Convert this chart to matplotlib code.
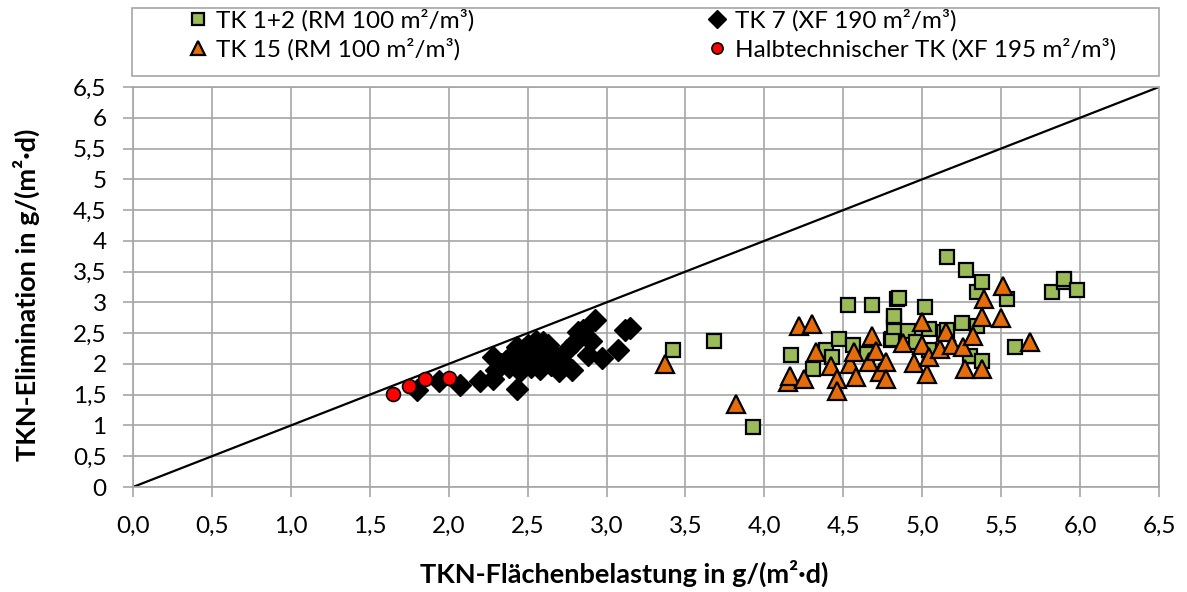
import numpy as np
import matplotlib
matplotlib.use("Agg")
import matplotlib.pyplot as plt
from matplotlib.patches import Rectangle

plt.rcParams['font.family'] = ['Lato', 'DejaVu Sans']

# TK 1+2 (RM 100 m²/m³)
tk12_x = [3.42, 3.68, 3.93, 4.17, 4.31, 4.39, 4.43, 4.47, 4.53, 4.56, 4.65, 4.68,
          4.80, 4.81, 4.82, 4.82, 4.82, 4.84, 4.85, 4.91, 4.96, 5.02, 5.04, 5.04,
          5.14, 5.16, 5.16, 5.25, 5.28, 5.30, 5.35, 5.35, 5.38, 5.38, 5.54, 5.59,
          5.82, 5.90, 5.90, 5.98]
tk12_y = [2.23, 2.37, 0.97, 2.15, 1.92, 2.22, 2.11, 2.41, 2.96, 2.30, 2.16, 2.96,
          2.39, 2.41, 2.60, 2.76, 2.78, 3.06, 3.07, 2.53, 2.35, 2.92, 2.57, 2.22,
          2.52, 2.55, 3.73, 2.66, 3.52, 2.13, 2.62, 3.17, 3.33, 2.05, 3.06, 2.28,
          3.17, 3.33, 3.38, 3.20]

# TK 7 (XF 190 m²/m³)
tk7_x = [1.80, 1.94, 2.07, 2.20, 2.28, 2.28, 2.30, 2.33, 2.36, 2.40, 2.43, 2.43,
         2.45, 2.48, 2.50, 2.52, 2.55, 2.57, 2.58, 2.60, 2.62, 2.63, 2.65, 2.68,
         2.70, 2.72, 2.75, 2.78, 2.80, 2.82, 2.85, 2.88, 2.90, 2.93, 2.97, 3.07,
         3.12, 3.15, 2.38, 2.47, 2.55, 2.60]
tk7_y = [1.58, 1.72, 1.65, 1.72, 1.76, 2.12, 1.90, 2.00, 2.05, 2.15, 2.28, 1.60,
         1.88, 2.25, 2.30, 1.95, 2.10, 2.25, 1.92, 2.05, 2.20, 2.30, 1.98, 2.12,
         1.88, 2.05, 2.22, 1.90, 2.35, 2.52, 2.55, 2.15, 2.38, 2.72, 2.10, 2.22,
         2.55, 2.58, 1.95, 2.10, 2.38, 2.35]

# TK 15 (RM 100 m²/m³)
tk15_x = [3.37, 3.82, 4.15, 4.16, 4.22, 4.25, 4.30, 4.33, 4.42, 4.46, 4.46, 4.54,
          4.57, 4.58, 4.66, 4.68, 4.71, 4.73, 4.77, 4.77, 4.88, 4.95, 5.00, 5.00,
          5.03, 5.04, 5.11, 5.15, 5.19, 5.26, 5.27, 5.32, 5.38, 5.38, 5.39, 5.50,
          5.51, 5.68]
tk15_y = [2.00, 1.35, 1.71, 1.81, 2.62, 1.76, 2.65, 2.19, 1.97, 1.76, 1.56, 2.00,
          2.20, 1.79, 2.03, 2.46, 2.21, 1.87, 2.03, 1.76, 2.34, 2.02, 2.31, 2.68,
          1.84, 2.11, 2.24, 2.52, 2.31, 2.28, 1.92, 2.46, 1.92, 2.76, 3.06, 2.75,
          3.27, 2.36]

# Halbtechnischer TK (XF 195 m²/m³)
halb_x = [1.645, 1.75, 1.85, 2.00]
halb_y = [1.51, 1.64, 1.76, 1.77]

ticks = np.arange(0, 6.51, 0.5)
x_labels = [f"{v:.1f}".replace('.', ',') for v in ticks]
y_labels = [f"{v:g}".replace('.', ',') for v in ticks]

W, H = 1187, 592
fig = plt.figure(figsize=(W / 100, H / 100), dpi=100)
ax = fig.add_axes([133 / W, 1 - 487 / H, (1159 - 133) / W, (487 - 87) / H])

grid_c = '#A6A6A6'
ax.set_xlim(0, 6.5)
ax.set_ylim(0, 6.5)
ax.set_xticks(ticks)
ax.set_yticks(ticks)
ax.set_xticklabels(x_labels)
ax.set_yticklabels(y_labels)
ax.grid(True, color=grid_c, linewidth=1.2, zorder=0)
ax.set_axisbelow(True)
for s in ax.spines.values():
    s.set_color(grid_c)
    s.set_linewidth(1.2)
ax.tick_params(axis='both', direction='out', length=7, width=1.2, color=grid_c,
               labelsize=17.5)
ax.tick_params(axis='y', pad=12)
ax.tick_params(axis='x', pad=14)

ax.plot([0, 6.5], [0, 6.5], color='black', linewidth=1.6, zorder=2)

ec = 'black'
h12, = ax.plot(tk12_x, tk12_y, 's', markersize=10, markerfacecolor='#9BBB59',
               markeredgecolor=ec, markeredgewidth=1.6, linestyle='none', zorder=3)
h7, = ax.plot(tk7_x, tk7_y, 'D', markersize=11, markerfacecolor='black',
              markeredgecolor=ec, markeredgewidth=1.0, linestyle='none', zorder=4)
h15, = ax.plot(tk15_x, tk15_y, '^', markersize=13, markerfacecolor='#E46C0A',
               markeredgecolor=ec, markeredgewidth=1.6, linestyle='none', zorder=5)
hh, = ax.plot(halb_x, halb_y, 'o', markersize=10, markerfacecolor='#FF0000',
              markeredgecolor=ec, markeredgewidth=1.2, linestyle='none', zorder=6)

fig.text(624 / W, 1 - 573 / H, 'TKN-Flächenbelastung in g/(m²·d)', ha='center',
         va='center', fontsize=19.5, fontweight='bold')
fig.text(26 / W, 1 - 295 / H, 'TKN-Elimination in g/(m²·d)', ha='center',
         va='center', rotation=90, fontsize=19.5, fontweight='bold')

# legend frame
fig.patches.append(Rectangle((132 / W, 1 - 76 / H), (1159 - 132) / W, 68 / H,
                             transform=fig.transFigure, facecolor='white',
                             edgecolor=grid_c, linewidth=1.2))

handles = [h12, h15, h7, hh]
labels = ['TK 1+2 (RM 100 m²/m³)', 'TK 15 (RM 100 m²/m³)',
          'TK 7 (XF 190 m²/m³)', 'Halbtechnischer TK (XF 195 m²/m³)']
leg = fig.legend(handles, labels, ncol=2, mode='expand', frameon=False,
                 loc='lower left',
                 bbox_to_anchor=(172 / W, 1 - 76 / H, (1132 - 172) / W, 68 / H),
                 borderpad=0.15, handlelength=0.8, handletextpad=0.35,
                 labelspacing=0.25, fontsize=17.5, markerscale=0.8)

fig.savefig('out.png', dpi=100)
